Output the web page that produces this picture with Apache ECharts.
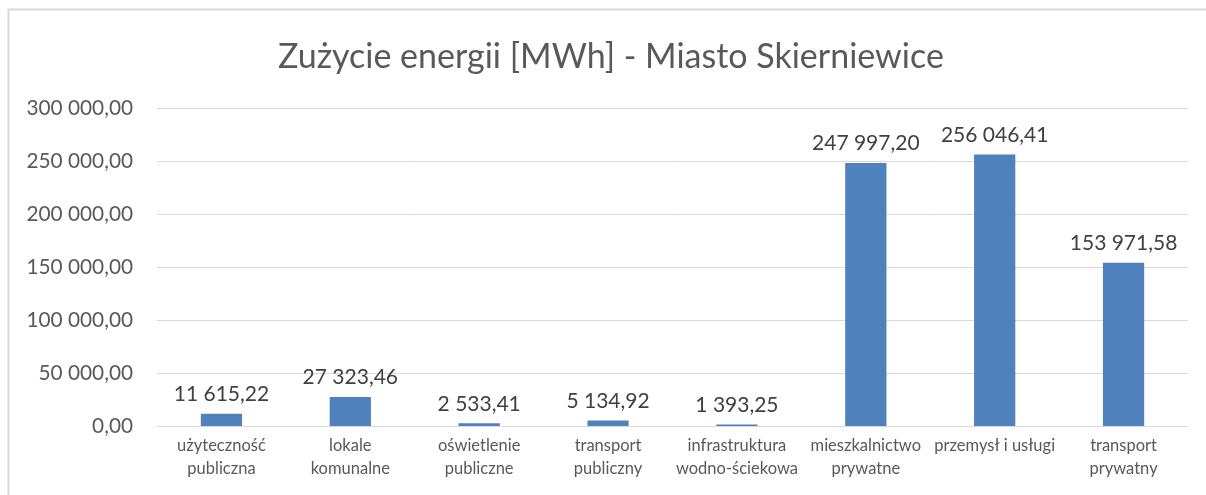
<!DOCTYPE html>
<html>
<head>
<meta charset="utf-8">
<style>
  html, body { margin: 0; padding: 0; background: #fff; }
  #chart { width: 1206px; height: 495px; }
</style>
<script src="https://cdn.jsdelivr.net/npm/echarts@6/dist/echarts.min.js"></script>
</head>
<body>
<div id="chart"></div>
<script>
// Energy use by sector, Skierniewice
const chartTitle = 'Zużycie energii [MWh] - Miasto Skierniewice';
const categories = [
  'użyteczność\npubliczna',
  'lokale\nkomunalne',
  'oświetlenie\npubliczne',
  'transport\npubliczny',
  'infrastruktura\nwodno-ściekowa',
  'mieszkalnictwo\nprywatne',
  'przemysł i usługi',
  'transport\nprywatny'
];
const energyMWh = [11615.22, 27323.46, 2533.41, 5134.92, 1393.25, 247997.20, 256046.41, 153971.58];
const axisMin = 0;
const axisMax = 300000;
const axisStep = 50000;

// Polish number format: space as thousands separator, comma as decimal mark
function plFormat(v) {
  const parts = v.toFixed(2).split('.');
  const intPart = parts[0].replace(/\B(?=(\d{3})+(?!\d))/g, ' ');
  return intPart + ',' + parts[1];
}

const font = 'Lato, "Open Sans", sans-serif';
const textGray = '#595959';
const lineGray = '#d9d9d9';

const chart = echarts.init(document.getElementById('chart'));
chart.setOption({
  animation: false,
  backgroundColor: '#ffffff',
  title: {
    text: chartTitle,
    left: 273,
    top: 35,
    textStyle: { fontFamily: font, fontSize: 34, fontWeight: 'normal', color: textGray }
  },
  graphic: [{
    type: 'rect',
    shape: { x: 8.5, y: 9.5, width: 1400, height: 700 },
    style: { fill: 'none', stroke: lineGray, lineWidth: 2 },
    silent: true
  }],
  grid: { left: 157, right: 18, top: 108, bottom: 69 },
  xAxis: {
    type: 'category',
    data: categories,
    axisLine: { show: true, lineStyle: { color: lineGray, width: 1 } },
    axisTick: { show: false },
    axisLabel: {
      interval: 0,
      margin: 8,
      fontFamily: font,
      fontSize: 16.5,
      lineHeight: 23,
      color: textGray
    }
  },
  yAxis: {
    type: 'value',
    min: axisMin,
    max: axisMax,
    interval: axisStep,
    axisLine: { show: false },
    axisTick: { show: false },
    splitLine: { lineStyle: { color: lineGray, width: 1 } },
    axisLabel: {
      margin: 24,
      fontFamily: font,
      fontSize: 20.8,
      color: textGray,
      formatter: v => plFormat(v)
    }
  },
  series: [{
    type: 'bar',
    data: energyMWh,
    barWidth: '32%',
    itemStyle: { color: '#4f81bd' },
    label: {
      show: true,
      position: 'top',
      distance: 9,
      fontFamily: font,
      fontSize: 21,
      color: '#404040',
      formatter: p => plFormat(p.value)
    }
  }]
});
</script>
</body>
</html>
